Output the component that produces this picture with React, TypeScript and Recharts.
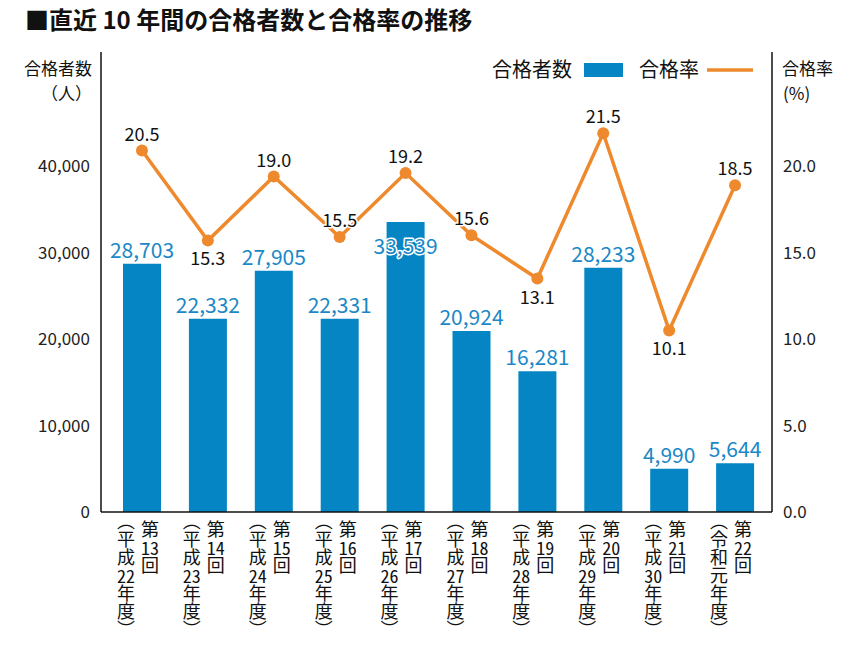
import React from 'react';
import { ComposedChart, Bar, Line, XAxis, YAxis, LabelList } from 'recharts';

const kai = ['第13回', '第14回', '第15回', '第16回', '第17回', '第18回', '第19回', '第20回', '第21回', '第22回'];
const nendo = ['平成22年度', '平成23年度', '平成24年度', '平成25年度', '平成26年度', '平成27年度', '平成28年度', '平成29年度', '平成30年度', '令和元年度'];
const passers = [28703, 22332, 27905, 22331, 33539, 20924, 16281, 28233, 4990, 5644];
const rates = [20.5, 15.3, 19.0, 15.5, 19.2, 15.6, 13.1, 21.5, 10.1, 18.5];
const countTicks = [0, 10000, 20000, 30000, 40000];
const rateTicks = [0, 5, 10, 15, 20];
const rateLabelBelow = [false, true, false, false, false, false, true, false, true, false];
const countLabelInside = [false, false, false, false, true, false, false, false, false, false];

const data = kai.map((k, i) => ({ kai: k, nendo: nendo[i], passers: passers[i], rate: rates[i] }));

const FONT = '"Noto Sans CJK JP", "Noto Sans", sans-serif';
const BLUE = '#0585c3';
const LABEL_BLUE = '#1a88c6';
const ORANGE = '#ee8a2d';

const tokens = (s: string) => s.match(/\d+|./g) || [];

const VerticalText = ({ text }: { text: string }) => (
  <>
    {tokens(text).map((t, k) =>
      /^\d+$/.test(t) ? (
        <span key={k} style={{ textCombineUpright: 'all' } as any}>{t}</span>
      ) : (
        <React.Fragment key={k}>{t}</React.Fragment>
      )
    )}
  </>
);

const colStyle: React.CSSProperties = {
  writingMode: 'vertical-rl',
  fontFamily: FONT,
  fontSize: 18,
  lineHeight: '24px',
  color: '#111',
  margin: 0,
  padding: 0,
  whiteSpace: 'nowrap',
};

const XTick = (props: any) => {
  const { x, y, payload } = props;
  const i = payload.index ?? props.index ?? 0;
  const lx = x - 16;
  const rx = x + 8;
  return (
    <g>
      <foreignObject x={rx - 12} y={y + 8} width={24} height={80}>
        <div style={colStyle}><VerticalText text={kai[i]} /></div>
      </foreignObject>
      <foreignObject x={lx - 12} y={y} width={24} height={130}>
        <div style={colStyle}>（<VerticalText text={nendo[i]} />）</div>
      </foreignObject>
    </g>
  );
};

const CountLabel = (props: any) => {
  const { x, y, width, value, index } = props;
  const cy = countLabelInside[index] ? y + 23 : y - 15;
  return (
    <text x={x + width / 2} y={cy} textAnchor="middle" dominantBaseline="central" fontFamily={FONT} fontSize={21}
      fill={LABEL_BLUE} stroke="#fff" strokeWidth={3} paintOrder="stroke" strokeLinejoin="round">
      {Number(value).toLocaleString('en-US')}
    </text>
  );
};

const RateLabel = (props: any) => {
  const { x, y, value, index } = props;
  const cy = rateLabelBelow[index] ? y + 17 : y - 18;
  return (
    <text x={x} y={cy} textAnchor="middle" dominantBaseline="central" fontFamily={FONT} fontSize={18} fontWeight={400}
      fill="#111" stroke="#fff" strokeWidth={3} paintOrder="stroke" strokeLinejoin="round">
      {Number(value).toFixed(1)}
    </text>
  );
};

export default function App() {
  return (
    <div style={{ position: 'absolute', left: 0, top: 0, width: 863, height: 646, background: '#fff' }}>
      <ComposedChart width={863} height={646} data={data} margin={{ top: 52, right: 0, bottom: 0, left: 0 }}>
        <XAxis dataKey="kai" interval={0} height={134} tick={<XTick />} tickLine={false} tickSize={0} tickMargin={0}
          axisLine={{ stroke: '#111', strokeWidth: 1.5 }} padding={{ left: 8, right: 4 }} />
        <YAxis yAxisId="count" orientation="left" width={101} domain={[0, 53180]} allowDataOverflow ticks={countTicks}
          tickFormatter={(v: number) => v.toLocaleString('en-US')} tickLine={false} tickSize={0} tickMargin={11}
          axisLine={{ stroke: '#111', strokeWidth: 1.5 }} tick={{ fontFamily: FONT, fontSize: 17, fill: '#222' }} />
        <YAxis yAxisId="pct" orientation="right" width={91} domain={[0, 26.59]} allowDataOverflow ticks={rateTicks}
          tickFormatter={(v: number) => v.toFixed(1)} tickLine={false} tickSize={0} tickMargin={11}
          axisLine={{ stroke: '#111', strokeWidth: 1.5 }} tick={{ fontFamily: FONT, fontSize: 17, fill: '#222', textAnchor: 'start' }} />
        <YAxis yAxisId="rate" hide domain={[-0.4, 26.2]} allowDataOverflow />
        <Bar yAxisId="count" dataKey="passers" fill={BLUE} barSize={38} isAnimationActive={false}>
          <LabelList dataKey="passers" content={<CountLabel />} />
        </Bar>
        <Line yAxisId="rate" dataKey="rate" type="linear" stroke={ORANGE} strokeWidth={3.5}
          dot={{ r: 6, fill: ORANGE, stroke: ORANGE, strokeWidth: 0 }} isAnimationActive={false}>
          <LabelList dataKey="rate" content={<RateLabel />} />
        </Line>
      </ComposedChart>
      <svg width={863} height={646} style={{ position: 'absolute', left: 0, top: 0, pointerEvents: 'none' }} fontFamily={FONT}>
        <text x={25} y={29} fontSize={24} fontWeight={700} fill="#111">■直近 10 年間の合格者数と合格率の推移</text>
        <text x={92} y={75} fontSize={17} textAnchor="end" fill="#111">合格者数</text>
        <text x={92} y={100} fontSize={17} textAnchor="end" fill="#111">（人）</text>
        <text x={782} y={75} fontSize={17} fill="#111">合格率</text>
        <text x={783} y={100} fontSize={17} fill="#111">(%)</text>
        <text x={492} y={77} fontSize={20} fill="#111">合格者数</text>
        <rect x={584} y={63} width={39} height={14} fill={BLUE} />
        <text x={639} y={77} fontSize={20} fill="#111">合格率</text>
        <line x1={707} y1={70} x2={753} y2={70} stroke={ORANGE} strokeWidth={3.5} />
      </svg>
    </div>
  );
}
